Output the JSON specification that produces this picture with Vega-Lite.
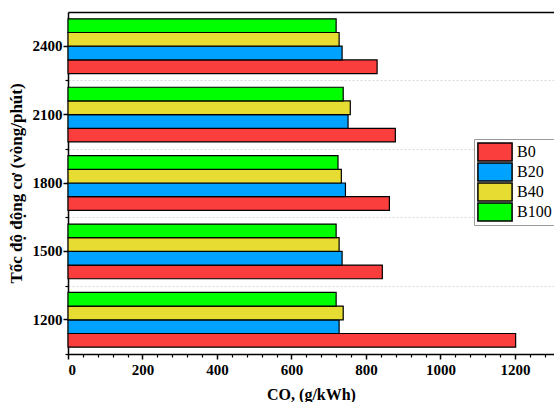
{
  "$schema": "https://vega.github.io/schema/vega-lite/v6.json",
  "width": 486,
  "height": 342,
  "autosize": {"type": "none"},
  "padding": {"left": 68, "top": 12, "right": 0, "bottom": 48},
  "background": "white",
  "config": {
    "view": {"stroke": null},
    "font": "Liberation Serif",
    "axis": {
      "labelFont": "Liberation Serif",
      "titleFont": "Liberation Serif",
      "labelColor": "black",
      "titleColor": "black",
      "domainColor": "black",
      "tickColor": "black"
    }
  },
  "data": {
    "values": [
      {"speed": "1200", "fuel": "B0", "co": 1202},
      {"speed": "1200", "fuel": "B20", "co": 728},
      {"speed": "1200", "fuel": "B40", "co": 739},
      {"speed": "1200", "fuel": "B100", "co": 720},
      {"speed": "1500", "fuel": "B0", "co": 844},
      {"speed": "1500", "fuel": "B20", "co": 736},
      {"speed": "1500", "fuel": "B40", "co": 728},
      {"speed": "1500", "fuel": "B100", "co": 720},
      {"speed": "1800", "fuel": "B0", "co": 863},
      {"speed": "1800", "fuel": "B20", "co": 745},
      {"speed": "1800", "fuel": "B40", "co": 734},
      {"speed": "1800", "fuel": "B100", "co": 725},
      {"speed": "2100", "fuel": "B0", "co": 879},
      {"speed": "2100", "fuel": "B20", "co": 752},
      {"speed": "2100", "fuel": "B40", "co": 758},
      {"speed": "2100", "fuel": "B100", "co": 739},
      {"speed": "2400", "fuel": "B0", "co": 830},
      {"speed": "2400", "fuel": "B20", "co": 736},
      {"speed": "2400", "fuel": "B40", "co": 728},
      {"speed": "2400", "fuel": "B100", "co": 720}
    ]
  },
  "layer": [
    {
      "mark": {"type": "bar", "opacity": 0},
      "encoding": {
        "x": {
          "field": "co", "type": "quantitative",
          "scale": {"domain": [0, 1305], "nice": false, "zero": true},
          "axis": {
            "orient": "top", "labels": false, "ticks": false, "grid": false,
            "title": null, "domain": true, "domainWidth": 1.5
          }
        },
        "y": {
          "field": "speed", "type": "nominal",
          "sort": ["2400", "2100", "1800", "1500", "1200"],
          "scale": {"paddingInner": 0.2, "paddingOuter": 0.1},
          "axis": {
            "labels": false, "title": null, "domain": false,
            "ticks": true, "tickSize": 3, "tickWidth": 1.2,
            "bandPosition": 1, "tickOffset": 6.84,
            "grid": true, "gridColor": "#d8d8d8", "gridDash": [2, 2], "gridWidth": 1
          }
        }
      }
    },
    {
      "mark": {"type": "bar", "opacity": 0},
      "encoding": {
        "x": {
          "field": "co", "type": "quantitative",
          "axis": {
            "orient": "bottom", "labels": false, "domain": false, "grid": false,
            "title": null, "tickSize": 3, "tickWidth": 1.2,
            "values": [40, 80, 120, 160, 240, 280, 320, 360, 440, 480, 520, 560, 640, 680, 720, 760, 840, 880, 920, 960, 1040, 1080, 1120, 1160, 1240, 1280]
          }
        },
        "y": {
          "field": "speed", "type": "nominal",
          "sort": ["2400", "2100", "1800", "1500", "1200"],
          "axis": null
        }
      }
    },
    {
      "mark": {"type": "bar", "stroke": "black", "strokeWidth": 1.2},
      "encoding": {
        "x": {
          "field": "co", "type": "quantitative",
          "title": "CO, (g/kWh)",
          "axis": {
            "orient": "bottom", "values": [0, 200, 400, 600, 800, 1000, 1200],
            "format": "d",
            "grid": false, "domainWidth": 1.5, "tickSize": 5, "tickWidth": 1.5,
            "labelFontSize": 15, "labelFontWeight": "bold", "labelPadding": 3,
            "titleFontSize": 16, "titleFontWeight": "bold", "titlePadding": 9
          }
        },
        "y": {
          "field": "speed", "type": "nominal",
          "sort": ["2400", "2100", "1800", "1500", "1200"],
          "title": "Tốc độ động cơ (vòng/phút)",
          "axis": {
            "orient": "left", "grid": false, "domainWidth": 1.5,
            "tickSize": 5, "tickWidth": 1.5,
            "labelFontSize": 15, "labelFontWeight": "bold", "labelPadding": 1,
            "titleFontSize": 17, "titleFontWeight": "bold", "titlePadding": 7
          }
        },
        "yOffset": {
          "field": "fuel", "type": "nominal",
          "sort": ["B100", "B40", "B20", "B0"],
          "scale": {"paddingInner": 0, "paddingOuter": 0}
        },
        "color": {
          "field": "fuel", "type": "nominal",
          "sort": ["B0", "B20", "B40", "B100"],
          "scale": {
            "domain": ["B0", "B20", "B40", "B100"],
            "range": ["#fa3e3e", "#00a2ff", "#e6dc32", "#00ff00"]
          },
          "legend": {
            "title": null,
            "orient": "none",
            "legendX": 406,
            "legendY": 127,
            "strokeColor": "#9a9a9a",
            "fillColor": "white",
            "padding": 3,
            "symbolType": "M-1.9,-1H1.9V1H-1.9Z",
            "symbolSize": 324,
            "symbolOffset": 8,
            "symbolStrokeColor": "black",
            "symbolStrokeWidth": 1.5,
            "symbolOpacity": 1,
            "clipHeight": 20,
            "rowPadding": 0,
            "labelFont": "Liberation Serif",
            "labelFontSize": 16,
            "labelColor": "black",
            "labelOffset": 12
          }
        }
      }
    }
  ],
  "resolve": {"axis": {"x": "independent", "y": "independent"}}
}
